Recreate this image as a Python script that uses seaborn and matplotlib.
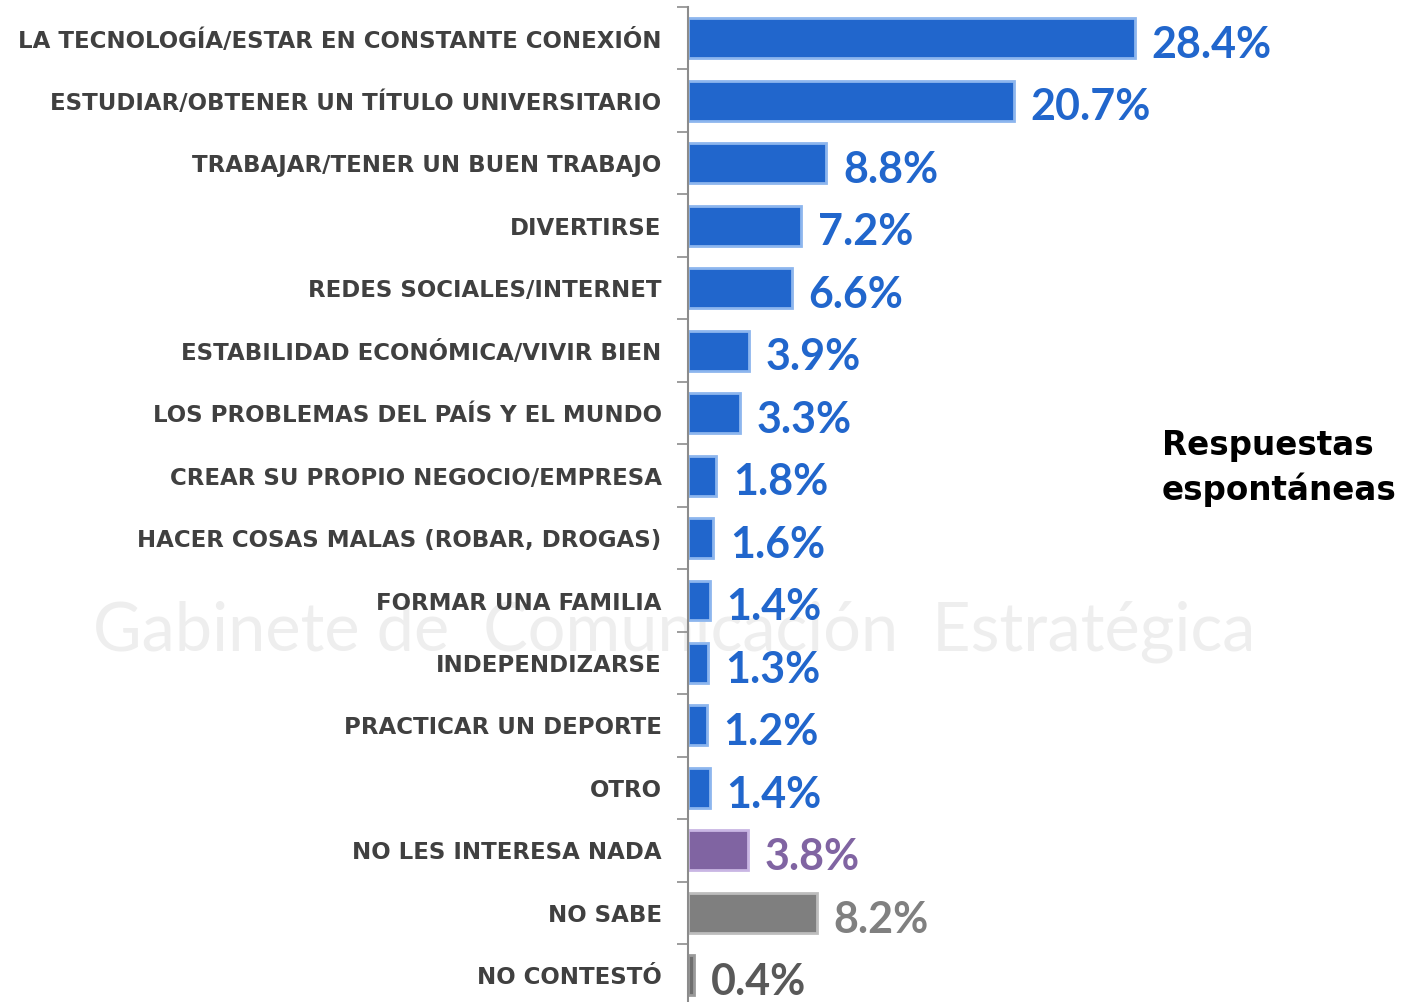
import numpy as np
import pandas as pd
import matplotlib
matplotlib.use('Agg')
import matplotlib.pyplot as plt
import seaborn as sns

categorias = [
    'LA TECNOLOGÍA/ESTAR EN CONSTANTE CONEXIÓN',
    'ESTUDIAR/OBTENER UN TÍTULO UNIVERSITARIO',
    'TRABAJAR/TENER UN BUEN TRABAJO',
    'DIVERTIRSE',
    'REDES SOCIALES/INTERNET',
    'ESTABILIDAD ECONÓMICA/VIVIR BIEN',
    'LOS PROBLEMAS DEL PAÍS Y EL MUNDO',
    'CREAR SU PROPIO NEGOCIO/EMPRESA',
    'HACER COSAS MALAS (ROBAR, DROGAS)',
    'FORMAR UNA FAMILIA',
    'INDEPENDIZARSE',
    'PRACTICAR UN DEPORTE',
    'OTRO',
    'NO LES INTERESA NADA',
    'NO SABE',
    'NO CONTESTÓ',
]
porcentajes = [28.4, 20.7, 8.8, 7.2, 6.6, 3.9, 3.3, 1.8, 1.6, 1.4, 1.3, 1.2, 1.4, 3.8, 8.2, 0.4]

azul = '#2166CC'
colores = [azul] * 13 + ['#8064A2', '#7F7F7F', '#6E6E6E']
colores_borde = ['#8DB6EE'] * 13 + ['#C9B6E4', '#BDBDBD', '#9A9A9A']
colores_texto = [azul] * 13 + ['#8064A2', '#808080', '#595959']

df = pd.DataFrame({'categoria': categorias, 'pct': porcentajes})

sns.set_style('white')
plt.rcParams['font.family'] = ['DejaVu Sans']

fig = plt.figure(figsize=(14.05, 10.02), dpi=100)
ax = fig.add_axes([688 / 1405, -0.0047, 708 / 1405, 0.9979])

# marca de agua (detrás del gráfico)
fig.text(0.48, 0.37, 'Gabinete de  Comunicación  Estratégica', ha='center', va='center',
         fontsize=48, color='#EEEEEE', zorder=-1, family='Lato')

sns.barplot(data=df, x='pct', y='categoria', hue='categoria', palette=colores,
            legend=False, width=0.64, orient='h', ax=ax, saturation=1)

for barra, borde in zip(ax.patches, colores_borde):
    barra.set_edgecolor(borde)
    barra.set_linewidth(2)

for cont, color in zip(ax.containers, colores_texto):
    etiquetas = ax.bar_label(cont, fmt='%.1f%%', padding=12, color=color, fontsize=31,
                             fontweight='bold', family='Lato')
    for t in etiquetas:
        t.xyann = (12, -5)

ax.set_xlim(0, 45)
ax.set_ylim(len(categorias) - 0.5, -0.5)
ax.set_xlabel('')
ax.set_ylabel('')
ax.set_xticks([])
ax.patch.set_alpha(0)

ax.set_yticks(np.arange(-0.5, len(categorias), 1.0), minor=True)
ax.tick_params(axis='y', which='major', length=0, pad=19, labelsize=16.5, labelcolor='#404040')
ax.tick_params(axis='y', which='minor', length=8, width=1.2, color='#8C8C8C', direction='out', left=True)
for lab in ax.get_yticklabels():
    lab.set_fontweight('bold')

for s in ['top', 'right', 'bottom']:
    ax.spines[s].set_visible(False)
ax.spines['left'].set_color('#8C8C8C')
ax.spines['left'].set_linewidth(1.5)

fig.text(1162 / 1405, 1 - 468 / 1002, 'Respuestas\nespontáneas', ha='left', va='center',
         fontsize=23.5, fontweight='bold', color='black', linespacing=1.38)

fig.savefig('out.png', dpi=100)
